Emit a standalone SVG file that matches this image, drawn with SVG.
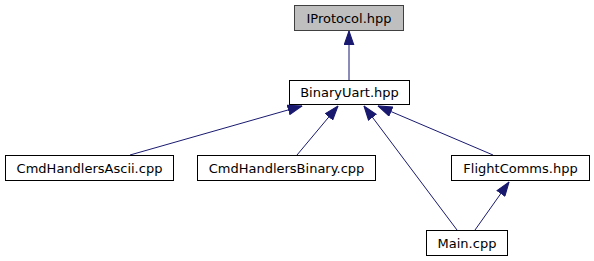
<svg xmlns="http://www.w3.org/2000/svg" width="594" height="261" viewBox="0 0 594 261">
  <style>
    .node rect { fill: #ffffff; stroke: #000000; stroke-width: 1; }
    .node.root rect { fill: #bfbfbf; stroke: #404040; }
    .node text { font-family: "DejaVu Sans", sans-serif; font-size: 13px; fill: #000000; text-anchor: middle; }
    .edge { fill: none; stroke: #191970; stroke-width: 1; marker-end: url(#arrow); }
  </style>
  <defs>
    <marker id="arrow" markerUnits="userSpaceOnUse" markerWidth="15" markerHeight="11" refX="13" refY="4.5" orient="auto" viewBox="-0.5 -0.5 14 10">
      <path d="M0,0 L13,4.5 L0,9 z" fill="#191970" stroke="#191970" stroke-width="1"/>
    </marker>
  </defs>
  <rect width="594" height="261" fill="#ffffff"/>

  <g id="edges">
    <path class="edge" d="M349,80 L349,31"/>
    <path class="edge" d="M130,155 L302,106"/>
    <path class="edge" d="M297,155 L338,106"/>
    <path class="edge" d="M457,230 L364,106"/>
    <path class="edge" d="M493,155 L378,106"/>
    <path class="edge" d="M475,230 L509,182"/>
  </g>

  <g id="node-iprotocol" class="node root">
    <rect x="294.5" y="5.5" width="109" height="25"/>
    <text x="349" y="22.5">IProtocol.hpp</text>
  </g>
  <g id="node-binaryuart" class="node">
    <rect x="289.5" y="80.5" width="120" height="24"/>
    <text x="349.5" y="97">BinaryUart.hpp</text>
  </g>
  <g id="node-cmdhandlersascii" class="node">
    <rect x="5.5" y="155.5" width="168" height="25"/>
    <text x="89.5" y="172.5">CmdHandlersAscii.cpp</text>
  </g>
  <g id="node-cmdhandlersbinary" class="node">
    <rect x="197.5" y="155.5" width="178" height="25"/>
    <text x="286.5" y="172.5">CmdHandlersBinary.cpp</text>
  </g>
  <g id="node-flightcomms" class="node">
    <rect x="451.5" y="155.5" width="138" height="25"/>
    <text x="520.5" y="172.5">FlightComms.hpp</text>
  </g>
  <g id="node-main" class="node">
    <rect x="426.5" y="230.5" width="81" height="25"/>
    <text x="467" y="247.5">Main.cpp</text>
  </g>
</svg>
